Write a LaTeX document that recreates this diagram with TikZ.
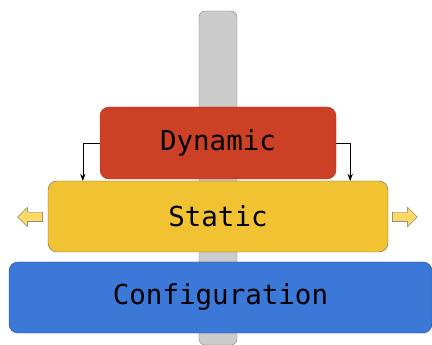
\documentclass[tikz,border=0pt]{standalone}
\usepackage{fontspec}
\setmonofont{DejaVu Sans Mono}
\usepackage{tikz}
\usetikzlibrary{arrows.meta,positioning,shapes.arrows}
\definecolor{polegray}{HTML}{CCCCCC}
\definecolor{dynred}{HTML}{CC4125}
\definecolor{statyellow}{HTML}{F1C232}
\definecolor{confblue}{HTML}{3C78D8}
\definecolor{arrowyellow}{HTML}{FFD966}

\begin{document}
\begin{tikzpicture}[x=1pt,y=-1pt,
  every node/.style={font=\ttfamily\fontsize{27.5}{32}\selectfont},
  layer/.style={rectangle,rounded corners=9pt,draw,thin,inner sep=0pt},
  flow/.style={single arrow,draw=gray!80!black,fill=arrowyellow,thin,font=\tiny,
    minimum height=25pt,minimum width=19pt,single arrow head extend=5pt,
    inner xsep=0pt,inner ysep=4.5pt},
  arr/.style={-{Stealth[length=2.4mm,width=1.8mm]},thin}
]
\useasboundingbox (0,0) rectangle (432,345);
\node[layer,rounded corners=6pt,fill=polegray,draw=gray,minimum width=38pt,minimum height=334pt] (pole) at (218,178) {};
\node[layer,fill=dynred,draw=dynred!80!black,minimum width=236pt,minimum height=72pt] (dyn) at (218,143) {Dynamic};
\node[layer,fill=statyellow,draw=gray!80!black,minimum width=340pt,minimum height=71pt] (sta) at (218,216.5) {Static};
\node[layer,fill=confblue,draw=confblue!60!black,minimum width=423pt,minimum height=71pt] (conf) at (220.5,297.5) {Configuration};
\node[flow,shape border rotate=180] (outl) at (32.5,217) {};
\node[flow] (outr) at (402.5,217) {};
\draw[arr] (dyn.west) -| ([xshift=35pt]sta.north west);
\draw[arr] (dyn.east) -| ([xshift=-38pt]sta.north east);
\end{tikzpicture}
\end{document}
